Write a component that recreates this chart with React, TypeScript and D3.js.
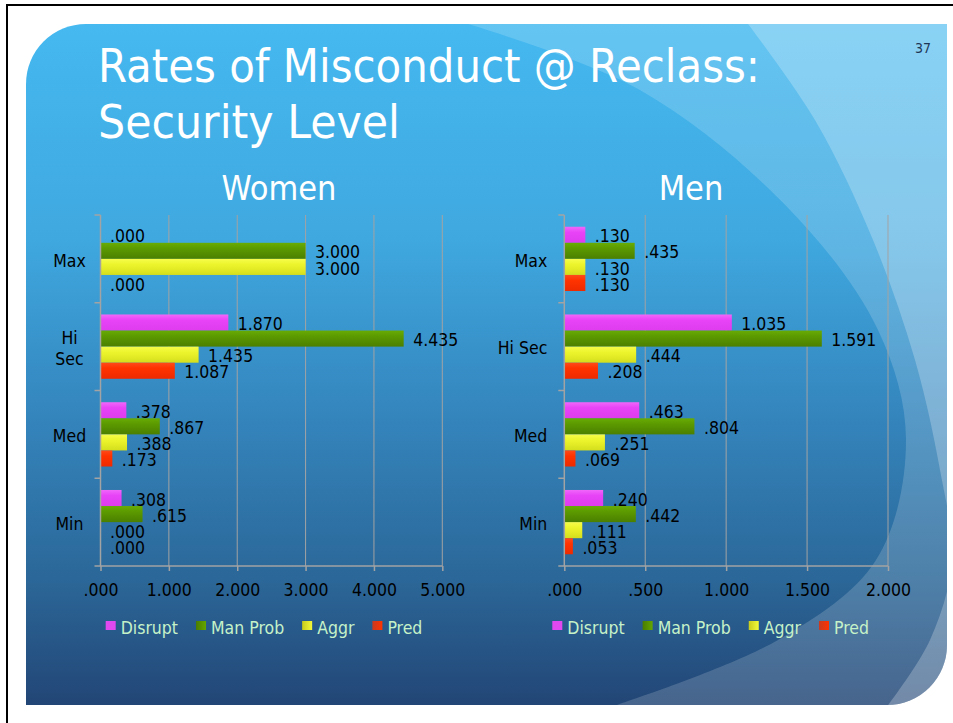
import { useEffect, useRef } from 'react';
import * as d3 from 'd3';

// chart data
const categories = ['Max', 'Hi Sec', 'Med', 'Min'];
const seriesNames = ['Disrupt', 'Man Prob', 'Aggr', 'Pred'];

const womenDisrupt = [0, 1.87, 0.378, 0.308];
const womenManProb = [3.0, 4.435, 0.867, 0.615];
const womenAggr = [3.0, 1.435, 0.388, 0];
const womenPred = [0, 1.087, 0.173, 0];

const menDisrupt = [0.13, 1.035, 0.463, 0.24];
const menManProb = [0.435, 1.591, 0.804, 0.442];
const menAggr = [0.13, 0.444, 0.251, 0.111];
const menPred = [0.13, 0.208, 0.069, 0.053];

const womenTicks = [0, 1, 2, 3, 4, 5];
const menTicks = [0, 0.5, 1, 1.5, 2];

const W = 953;
const H = 723;
const PLOT_TOP = 215;
const PLOT_BOTTOM = 566;
const FONT = '"DejaVu Sans Condensed", "DejaVu Sans", Verdana, sans-serif';
const FS = 17.5;

// bar fills (vertical) and legend fills (horizontal)
const barStops = [
  ['#f067fa', '#e843f7', '#de3cee'],
  ['#68ac04', '#5c9a00', '#4b7f00'],
  ['#f6fc4a', '#ecf52c', '#d5de1c'],
  ['#ff4a1a', '#ff3300', '#ee2a00'],
];
const legendStops = [
  ['#e048f0', '#e048f0'],
  ['#4a7c00', '#64a600'],
  ['#c8cc1c', '#f2fa3a'],
  ['#c83a20', '#ff3300'],
];

const fmt = (v: number) => d3.format('.3f')(v).replace(/^0\./, '.');

const App = () => {
  const svgRef = useRef<SVGSVGElement>(null);

  useEffect(() => {
    const svg = d3.select(svgRef.current);
    svg.selectAll('*').remove();
    svg.attr('font-stretch', 'condensed');
    const defs = svg.append('defs');

    // slide background
    const bg = defs.append('linearGradient').attr('id', 'bg')
      .attr('gradientUnits', 'userSpaceOnUse')
      .attr('x1', 0).attr('y1', 24).attr('x2', 0).attr('y2', 705);
    [[0, '#45b9f0'], [0.317, '#3fa8df'], [0.552, '#3588c0'], [0.816, '#2b6798'], [1, '#224676']]
      .forEach(([o, c]) => bg.append('stop').attr('offset', o as number).attr('stop-color', c as string));

    barStops.forEach((s, i) => {
      const lg = defs.append('linearGradient').attr('id', `bar${i}`)
        .attr('x1', 0).attr('y1', 0).attr('x2', 0).attr('y2', 1);
      lg.append('stop').attr('offset', 0).attr('stop-color', s[0]);
      lg.append('stop').attr('offset', 0.35).attr('stop-color', s[1]);
      lg.append('stop').attr('offset', 1).attr('stop-color', s[2]);
    });
    legendStops.forEach((s, i) => {
      const lg = defs.append('linearGradient').attr('id', `leg${i}`)
        .attr('x1', 0).attr('y1', 0).attr('x2', 1).attr('y2', 0);
      lg.append('stop').attr('offset', 0).attr('stop-color', s[0]);
      lg.append('stop').attr('offset', 1).attr('stop-color', s[1]);
    });

    const slidePath = 'M26,84 A60,60 0 0 1 86,24 H947 V645 A60,60 0 0 1 887,705 H26 Z';
    defs.append('clipPath').attr('id', 'slide').append('path').attr('d', slidePath);

    svg.append('rect').attr('width', W).attr('height', H).attr('fill', '#fff');
    svg.append('rect').attr('x', 6).attr('y', 4).attr('width', W - 6).attr('height', 2).attr('fill', '#000');
    svg.append('rect').attr('x', 6).attr('y', 4).attr('width', 2).attr('height', H - 4).attr('fill', '#000');
    svg.append('path').attr('d', slidePath).attr('fill', 'url(#bg)');

    // the lighter swooshes on the right
    const swoosh = d3.line().curve(d3.curveCatmullRom.alpha(0.5));
    const curveA: [number, number][] = [[455, 20], [640, 90], [790, 210], [878, 330], [906, 440], [876, 560], [778, 640], [608, 708]];
    const curveB: [number, number][] = [[745, 20], [815, 120], [873, 240], [915, 360], [940, 470], [952, 560], [930, 640], [886, 708]];
    const deco = svg.append('g').attr('clip-path', 'url(#slide)');
    deco.append('path').attr('d', swoosh(curveA) + ' L960,708 L960,20 Z')
      .attr('fill', '#fff').attr('fill-opacity', 0.17);
    deco.append('path').attr('d', swoosh(curveB) + ' L970,708 L970,20 Z')
      .attr('fill', '#fff').attr('fill-opacity', 0.24);

    // titles
    svg.append('text').attr('x', 98).attr('y', 82).attr('fill', '#fff')
      .attr('font-family', FONT).attr('font-size', 46)
      .attr('textLength', 662).attr('lengthAdjust', 'spacingAndGlyphs')
      .text('Rates of Misconduct @ Reclass:');
    svg.append('text').attr('x', 98).attr('y', 138).attr('fill', '#fff')
      .attr('font-family', FONT).attr('font-size', 46)
      .attr('textLength', 302).attr('lengthAdjust', 'spacingAndGlyphs')
      .text('Security Level');
    svg.append('text').attr('x', 915).attr('y', 53).attr('fill', '#1f3756')
      .attr('font-family', FONT).attr('font-size', 14).text('37');

    const drawPanel = (cfg: {
      heading: string; headingX: number; range: [number, number]; ticks: number[];
      values: number[][]; wrap: boolean; legendX: number;
    }) => {
      const x = d3.scaleLinear().domain([0, cfg.ticks[cfg.ticks.length - 1]]).range(cfg.range);
      const y = d3.scaleBand().domain(categories).range([PLOT_TOP, PLOT_BOTTOM]);
      const inner = d3.scaleBand().domain(seriesNames).range([0, y.bandwidth()]).paddingOuter(0.73);
      const g = svg.append('g').attr('font-family', FONT);

      g.append('text').attr('x', cfg.headingX).attr('y', 199.5).attr('text-anchor', 'middle')
        .attr('fill', '#fff').attr('font-size', 34).text(cfg.heading);

      // gridlines
      g.selectAll('line.grid').data(cfg.ticks.slice(1)).join('line')
        .attr('x1', d => x(d)).attr('x2', d => x(d))
        .attr('y1', PLOT_TOP).attr('y2', PLOT_BOTTOM)
        .attr('stroke', '#a3a3a3').attr('stroke-width', 1);

      // bars
      const rows = categories.flatMap((c, ci) =>
        seriesNames.map((s, si) => ({ c, s, si, v: cfg.values[si][ci] })));
      g.selectAll('rect.bar').data(rows).join('rect')
        .attr('x', x(0))
        .attr('y', d => (y(d.c) as number) + (inner(d.s) as number))
        .attr('width', d => x(d.v) - x(0))
        .attr('height', inner.bandwidth())
        .attr('fill', d => `url(#bar${d.si})`);

      g.selectAll('text.val').data(rows).join('text')
        .attr('x', d => x(d.v) + 9.5)
        .attr('y', d => (y(d.c) as number) + (inner(d.s) as number) + inner.bandwidth() / 2 + 1.5)
        .attr('dy', '0.35em').attr('font-size', FS).attr('fill', '#000')
        .text(d => fmt(d.v));

      // axes
      g.append('line').attr('x1', x(0)).attr('x2', x(0)).attr('y1', PLOT_TOP).attr('y2', PLOT_BOTTOM)
        .attr('stroke', '#a3a3a3').attr('stroke-width', 1.5);
      g.append('line').attr('x1', x(0) - 6).attr('x2', cfg.range[1]).attr('y1', PLOT_BOTTOM).attr('y2', PLOT_BOTTOM)
        .attr('stroke', '#a3a3a3').attr('stroke-width', 1.5);
      const bounds = categories.map(c => y(c) as number);
      g.selectAll('line.ytick').data(bounds).join('line')
        .attr('x1', x(0) - 6).attr('x2', x(0)).attr('y1', d => d).attr('y2', d => d)
        .attr('stroke', '#a3a3a3').attr('stroke-width', 1.5);

      const xAxis = g.append('g').attr('transform', `translate(0,${PLOT_BOTTOM})`)
        .call(d3.axisBottom(x).tickValues(cfg.ticks).tickFormat(d => fmt(d as number)).tickSize(5).tickSizeOuter(0));
      xAxis.select('.domain').remove();
      xAxis.selectAll('line').attr('stroke', '#a3a3a3').attr('stroke-width', 1.5);
      xAxis.selectAll('text').attr('y', 24).attr('dy', '0.35em')
        .attr('font-family', FONT).attr('font-size', FS).attr('fill', '#000');

      // category labels
      const catLabels = g.selectAll('text.cat').data(categories).join('text')
        .attr('font-size', FS).attr('fill', '#000')
        .attr('y', d => (y(d) as number) + y.bandwidth() / 2 + 1.5);
      if (cfg.wrap) {
        catLabels.attr('text-anchor', 'middle').each(function (d) {
          const words = d.split(' ');
          const t = d3.select(this);
          const cx = x(0) - 17 - 14;
          words.forEach((w, i) => {
            t.append('tspan').attr('x', cx)
              .attr('dy', i === 0 ? `${0.35 - (words.length - 1) * 0.6}em` : '1.2em')
              .text(w);
          });
        });
      } else {
        catLabels.attr('text-anchor', 'end').attr('x', x(0) - 17).attr('dy', '0.35em').text(d => d);
      }

      // legend
      const leg = g.append('g');
      let lx = cfg.legendX;
      seriesNames.forEach((s, i) => {
        leg.append('rect').attr('x', lx).attr('y', 621).attr('width', 10).attr('height', 9)
          .attr('fill', `url(#leg${i})`);
        const t = leg.append('text').attr('x', lx + 15).attr('y', 634)
          .attr('font-size', FS).attr('fill', '#c6f2c8').text(s);
        const len = (t.node() as SVGTextElement).getComputedTextLength();
        lx += 15 + len + 18;
      });
    };

    drawPanel({
      heading: 'Women', headingX: 279, range: [100.5, 442.3], ticks: womenTicks,
      values: [womenDisrupt, womenManProb, womenAggr, womenPred], wrap: true, legendX: 105.7,
    });
    drawPanel({
      heading: 'Men', headingX: 691, range: [564.3, 888], ticks: menTicks,
      values: [menDisrupt, menManProb, menAggr, menPred], wrap: false, legendX: 552.3,
    });
  }, []);

  return (
    <svg ref={svgRef} width={W} height={H}
      style={{ position: 'absolute', left: 0, top: 0, display: 'block' }} />
  );
};

export default App;
